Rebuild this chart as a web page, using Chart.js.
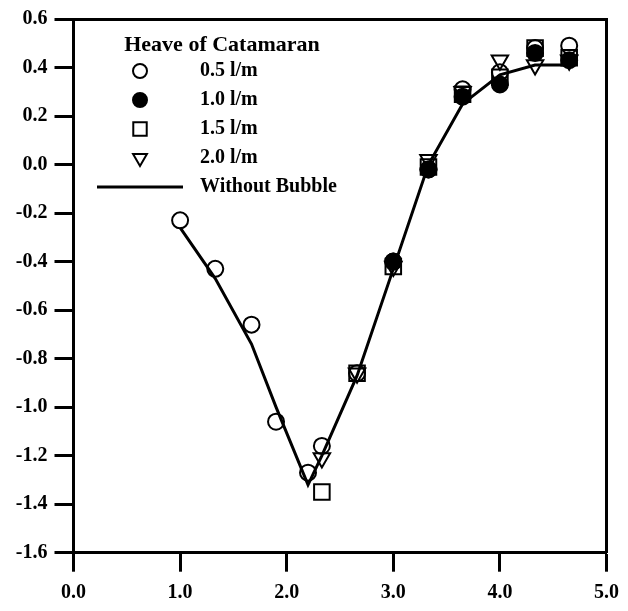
<!DOCTYPE html>
<html>
<head>
<meta charset="utf-8">
<script src="https://cdn.jsdelivr.net/npm/chart.js@4/dist/chart.umd.min.js"></script>
<style>
  html, body { margin: 0; padding: 0; background: #fff; }
  #wrap { width: 628px; height: 611px; }
</style>
</head>
<body>
<div id="wrap"><canvas id="c" width="628" height="611"></canvas></div>
<script>
// Wave-to-ship length ratio values at which the heave was measured
const xValues = [1.0, 1.33, 1.67, 1.9, 2.2, 2.33, 2.66, 3.0, 3.33, 3.65, 4.0, 4.33, 4.65];

// Heave response for each air flow rate (null = not measured)
const heave05 = [-0.23, -0.43, -0.66, -1.06, -1.27, -1.16, -0.86, -0.40, -0.02, 0.31, 0.38, 0.48, 0.49];
const heave10 = [null, null, null, null, null, null, null, -0.40, -0.02, 0.28, 0.33, 0.46, 0.43];
const heave15 = [null, null, null, null, null, -1.35, -0.86, -0.42, -0.01, 0.29, 0.36, 0.48, 0.44];
const heave20 = [null, null, null, null, null, -1.21, -0.86, -0.42, 0.02, 0.30, 0.43, 0.41, 0.43];
const heaveNoBubble = [-0.26, -0.47, -0.74, -1.00, -1.32, -1.20, -0.87, -0.43, 0.00, 0.25, 0.37, 0.41, 0.41];

const seriesLabels = ['0.5 l/m', '1.0 l/m', '1.5 l/m', '2.0 l/m', 'Without Bubble'];
const legendTitle = 'Heave of Catamaran';

const xTickValues = [0, 1, 2, 3, 4, 5];
const xTickLabels = ['0.0', '1.0', '2.0', '3.0', '4.0', '5.0'];
const yTickValues = [-1.6, -1.4, -1.2, -1.0, -0.8, -0.6, -0.4, -0.2, 0.0, 0.2, 0.4, 0.6];
const yTickLabels = ['-1.6', '-1.4', '-1.2', '-1.0', '-0.8', '-0.6', '-0.4', '-0.2', '0.0', '0.2', '0.4', '0.6'];

const FONT = "'Liberation Serif', 'Times New Roman', serif";
const BLACK = '#000';
const NONE = 'rgba(0,0,0,0)';

function toPoints(ys) {
  const pts = [];
  ys.forEach((y, i) => { if (y !== null) pts.push({ x: xValues[i], y: y }); });
  return pts;
}

// Legend symbols: drawn slightly left of the image centre so the
// long line sample and the markers share one axis.
const ICON_W = 99, ICON_H = 30, ICON_SX = 45;
function makeIcon(fn) {
  const c = document.createElement('canvas');
  c.width = ICON_W; c.height = ICON_H;
  const g = c.getContext('2d');
  g.strokeStyle = BLACK;
  g.fillStyle = BLACK;
  fn(g, ICON_SX, ICON_H / 2);
  return c;
}
function markerIcon(style, radius, filled, rotation) {
  return makeIcon((g, x, y) => {
    g.lineWidth = 2;
    g.fillStyle = filled ? BLACK : NONE;
    Chart.helpers.drawPoint(g, { pointStyle: style, radius: radius, rotation: rotation || 0, borderWidth: 2 }, x, y);
  });
}
const legendIcons = [
  markerIcon('circle', 7, false),
  markerIcon('circle', 7, true),
  markerIcon('rect', 9.5, false),
  markerIcon('triangle', 8, false, 180),
  makeIcon((g, x, y) => {
    g.lineWidth = 3;
    g.beginPath();
    g.moveTo(x - 43, y);
    g.lineTo(x + 43, y);
    g.stroke();
  })
];

// Keeps the legend block at a fixed spot inside the plot frame
const LEGEND_LEFT = 90, LEGEND_TOP = 30, LEGEND_WIDTH = 264;
const legendPin = {
  id: 'legendPin',
  afterLayout(chart) {
    const lg = chart.legend;
    if (!lg) return;
    lg.left = LEGEND_LEFT;
    lg.top = LEGEND_TOP;
    lg.width = LEGEND_WIDTH;
    lg.right = LEGEND_LEFT + LEGEND_WIDTH;
    lg.height = 400;
    lg.bottom = LEGEND_TOP + 400;
  }
};

const scatterBase = {
  showLine: false,
  borderColor: BLACK,
  borderWidth: 2,
  pointBorderWidth: 2,
  pointBorderColor: BLACK
};

new Chart(document.getElementById('c'), {
  type: 'scatter',
  data: {
    datasets: [
      Object.assign({}, scatterBase, {
        label: seriesLabels[0], data: toPoints(heave05),
        pointStyle: 'circle', pointRadius: 8, pointBackgroundColor: NONE
      }),
      Object.assign({}, scatterBase, {
        label: seriesLabels[1], data: toPoints(heave10),
        pointStyle: 'circle', pointRadius: 8, pointBackgroundColor: BLACK
      }),
      Object.assign({}, scatterBase, {
        label: seriesLabels[2], data: toPoints(heave15),
        pointStyle: 'rect', pointRadius: 11, pointBackgroundColor: NONE
      }),
      Object.assign({}, scatterBase, {
        label: seriesLabels[3], data: toPoints(heave20),
        pointStyle: 'triangle', pointRotation: 180, pointRadius: 9.5, pointBackgroundColor: NONE
      }),
      {
        label: seriesLabels[4], data: toPoints(heaveNoBubble),
        showLine: true, borderColor: BLACK, borderWidth: 3, pointRadius: 0,
        tension: 0, fill: false
      }
    ]
  },
  options: {
    responsive: false,
    devicePixelRatio: 1,
    animation: false,
    events: [],
    layout: { padding: { left: 0, top: 15.7, right: 17, bottom: 0 } },
    scales: {
      x: {
        type: 'linear', position: 'bottom', min: 0, max: 5,
        afterFit: s => { s.height = 58.3; },
        afterBuildTicks: s => { s.ticks = xTickValues.map(v => ({ value: v })); },
        ticks: {
          callback: (v) => xTickLabels[xTickValues.indexOf(v)],
          color: BLACK, font: { family: FONT, size: 20, weight: 'bold' },
          padding: 9, maxRotation: 0, autoSkip: false
        },
        grid: { drawOnChartArea: false, drawTicks: true, tickLength: 19, tickWidth: 3, tickColor: BLACK },
        border: { display: true, width: 3, color: BLACK }
      },
      y: {
        type: 'linear', position: 'left', min: -1.6, max: 0.6,
        afterFit: s => { s.width = 73.5; },
        afterBuildTicks: s => { s.ticks = yTickValues.map(v => ({ value: v })); },
        ticks: {
          callback: (v) => yTickLabels[yTickValues.findIndex(t => Math.abs(t - v) < 1e-6)],
          color: BLACK, font: { family: FONT, size: 20, weight: 'bold' },
          padding: 7, autoSkip: false
        },
        grid: { drawOnChartArea: false, drawTicks: true, tickLength: 19, tickWidth: 3, tickColor: BLACK },
        border: { display: true, width: 3, color: BLACK }
      },
      xTop: {
        type: 'linear', position: 'top', min: 0, max: 5,
        afterFit: s => { s.height = 0; },
        ticks: { display: false },
        grid: { display: false, drawTicks: false },
        border: { display: true, width: 3, color: BLACK }
      },
      yRight: {
        type: 'linear', position: 'right', min: -1.6, max: 0.6,
        afterFit: s => { s.width = 0; },
        ticks: { display: false },
        grid: { display: false, drawTicks: false },
        border: { display: true, width: 3, color: BLACK }
      }
    },
    plugins: {
      tooltip: { enabled: false },
      legend: {
        display: true,
        position: 'chartArea',
        align: 'start',
        title: {
          display: true, text: legendTitle, position: 'center', color: BLACK,
          padding: { top: 4, bottom: 0.4 },
          font: { family: FONT, size: 22, weight: 'bold', lineHeight: 0.8 }
        },
        labels: {
          usePointStyle: true,
          pointStyleWidth: 91,
          boxHeight: 20,
          padding: 9,
          color: BLACK,
          font: { family: FONT, size: 20, weight: 'bold' },
          generateLabels: (chart) => chart.data.datasets.map((ds, i) => ({
            text: ds.label,
            pointStyle: legendIcons[i],
            fontColor: BLACK,
            fillStyle: NONE,
            strokeStyle: NONE,
            lineWidth: 0,
            hidden: false,
            datasetIndex: i
          }))
        }
      }
    }
  },
  plugins: [legendPin]
});
</script>
</body>
</html>
